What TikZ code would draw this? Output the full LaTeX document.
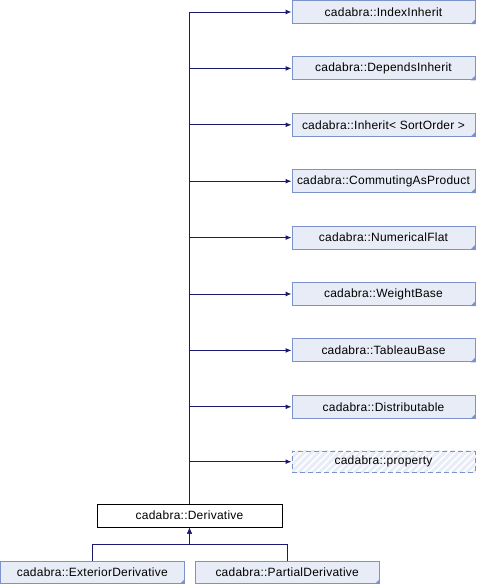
\documentclass[tikz,border=0pt]{standalone}
\usepackage{fontspec}
\setmainfont{Liberation Sans}
\newfontfamily\labf[LetterSpace=2]{Liberation Sans}
\usetikzlibrary{arrows.meta}
\definecolor{edgec}{HTML}{191970}
\definecolor{boxfill}{HTML}{E8ECF6}
\definecolor{boxdraw}{HTML}{7C92CA}
\tikzset{
  lab/.style={font=\labf\fontsize{12}{14}\selectfont},
  cls/.style={lab, draw=boxdraw, fill=boxfill, line width=1pt, minimum width=183pt, minimum height=23pt, inner sep=0pt},
  mainc/.style={lab, draw=black, fill=white, line width=1pt, minimum width=185pt, minimum height=23pt, inner sep=0pt},
  propc/.style={lab, draw=boxdraw, dashed, dash pattern=on 5pt off 3pt, line width=1pt, minimum width=183pt, minimum height=21pt, inner sep=0pt},
  edge/.style={draw=edgec, line width=1pt, -{Latex[length=6pt,width=5pt]}},
  stripe/.style={draw=boxfill, line width=3pt},
  corner/.style={fill=boxdraw, draw=none}
}
\newcommand{\foldc}[1]{\fill[corner] (#1.south east) -- ++(0,-5) -- ++(-5,5) -- cycle;}
\begin{document}
\begin{tikzpicture}[x=1pt,y=-1pt]
\useasboundingbox (0,0) rectangle (477,584);
% parents
\node[cls] (p0) at (383.5,12.0) {cadabra::IndexInherit};
\node[cls] (p1) at (383.5,68.4) {cadabra::DependsInherit};
\node[cls] (p2) at (383.5,124.8) {cadabra::Inherit< SortOrder >};
\node[cls] (p3) at (383.5,181.2) {cadabra::CommutingAsProduct};
\node[cls] (p4) at (383.5,237.6) {cadabra::NumericalFlat};
\node[cls] (p5) at (383.5,294.0) {cadabra::WeightBase};
\node[cls] (p6) at (383.5,350.4) {cadabra::TableauBase};
\node[cls] (p7) at (383.5,406.8) {cadabra::Distributable};
\foreach \i in {0,...,7} {\foldc{p\i}}
% property (hatched)
\node[propc, fill=white] (p8) at (383.5,461.7) {};
\begin{scope}
  \clip (p8.south west) rectangle (p8.north east);
  \foreach \k in {0,...,32} {
    \draw[stripe] (270+7*\k,473) -- (293+7*\k,450);
  }
\end{scope}
\node[propc] (p8b) at (383.5,461.7) {cadabra::property};
% main
\node[mainc] (d) at (189.5,515.5) {cadabra::Derivative};
% children
\node[cls, minimum width=184pt, minimum height=22.5pt] (c1) at (92.3,572.3) {cadabra::ExteriorDerivative};
\node[cls, minimum width=184pt, minimum height=22.5pt] (c2) at (287.2,572.3) {cadabra::PartialDerivative};
\foldc{c1}
\foldc{c2}
% edges
\foreach \i in {0,...,7} {\draw[edge] (d.north) |- (p\i.west);}
\draw[edge] (d.north) |- (p8b.west);
\coordinate (j) at (189.5,544.3);
\draw[edge] (c1.north) |- (j) -- (d.south);
\draw[edge] (c2.north) |- (j) -- (d.south);
\end{tikzpicture}
\end{document}
